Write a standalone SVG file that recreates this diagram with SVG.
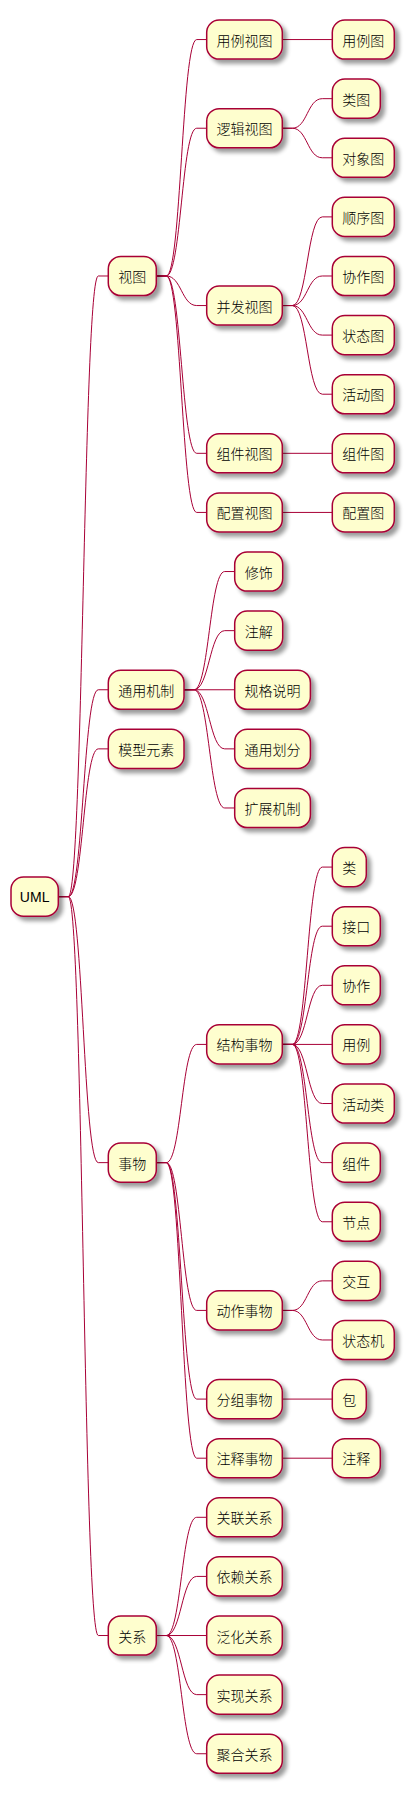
<svg xmlns="http://www.w3.org/2000/svg" width="412" height="1794" viewBox="0 0 412 1794">
<style>
.n rect{fill:#FEFECE;stroke:#A80036;stroke-width:1.5;filter:url(#sh)}
.n text{font-family:"Noto Sans CJK SC","Liberation Sans",sans-serif;font-size:14px;font-weight:300;fill:#000;text-anchor:middle}
.n text.l{font-family:"Liberation Sans",Arial,sans-serif;font-weight:400}
#links path{fill:none;stroke:#A80036;stroke-width:1}
</style>
<defs>
<filter id="sh" x="-20%" y="-20%" width="150%" height="160%">
<feGaussianBlur in="SourceAlpha" stdDeviation="2" result="b"/>
<feOffset in="b" dx="4" dy="4" result="o"/>
<feComponentTransfer in="o" result="c"><feFuncA type="linear" slope="0.4"/></feComponentTransfer>
<feMerge><feMergeNode in="c"/><feMergeNode in="SourceGraphic"/></feMerge>
</filter>
</defs>
<g id="links">
<path d="M58.3 896.65 L68.3 896.65 C83.3 896.65 83.3 275.99 98.3 275.99 L108.3 275.99"/>
<path d="M58.3 896.65 L68.3 896.65 C83.3 896.65 83.3 689.76 98.3 689.76 L108.3 689.76"/>
<path d="M58.3 896.65 L68.3 896.65 C83.3 896.65 83.3 748.87 98.3 748.87 L108.3 748.87"/>
<path d="M58.3 896.65 L68.3 896.65 C83.3 896.65 83.3 1162.64 98.3 1162.64 L108.3 1162.64"/>
<path d="M58.3 896.65 L68.3 896.65 C83.3 896.65 83.3 1635.52 98.3 1635.52 L108.3 1635.52"/>
<path d="M156.3 275.99 L166.3 275.99 C181.3 275.99 181.7 39.55 196.7 39.55 L206.7 39.55"/>
<path d="M156.3 275.99 L166.3 275.99 C181.3 275.99 181.7 128.22 196.7 128.22 L206.7 128.22"/>
<path d="M156.3 275.99 L166.3 275.99 C181.3 275.99 181.7 305.55 196.7 305.55 L206.7 305.55"/>
<path d="M156.3 275.99 L166.3 275.99 C181.3 275.99 181.7 453.32 196.7 453.32 L206.7 453.32"/>
<path d="M156.3 275.99 L166.3 275.99 C181.3 275.99 181.7 512.43 196.7 512.43 L206.7 512.43"/>
<path d="M184 689.76 L194 689.76 C209 689.76 209.7 571.54 224.7 571.54 L234.7 571.54"/>
<path d="M184 689.76 L194 689.76 C209 689.76 209.7 630.65 224.7 630.65 L234.7 630.65"/>
<path d="M184 689.76 L234.7 689.76"/>
<path d="M184 689.76 L194 689.76 C209 689.76 209.7 748.87 224.7 748.87 L234.7 748.87"/>
<path d="M184 689.76 L194 689.76 C209 689.76 209.7 807.98 224.7 807.98 L234.7 807.98"/>
<path d="M156.3 1162.64 L166.3 1162.64 C181.3 1162.64 181.7 1044.42 196.7 1044.42 L206.7 1044.42"/>
<path d="M156.3 1162.64 L166.3 1162.64 C181.3 1162.64 181.7 1310.42 196.7 1310.42 L206.7 1310.42"/>
<path d="M156.3 1162.64 L166.3 1162.64 C181.3 1162.64 181.7 1399.08 196.7 1399.08 L206.7 1399.08"/>
<path d="M156.3 1162.64 L166.3 1162.64 C181.3 1162.64 181.7 1458.19 196.7 1458.19 L206.7 1458.19"/>
<path d="M156.3 1635.52 L166.3 1635.52 C181.3 1635.52 181.7 1517.3 196.7 1517.3 L206.7 1517.3"/>
<path d="M156.3 1635.52 L166.3 1635.52 C181.3 1635.52 181.7 1576.41 196.7 1576.41 L206.7 1576.41"/>
<path d="M156.3 1635.52 L206.7 1635.52"/>
<path d="M156.3 1635.52 L166.3 1635.52 C181.3 1635.52 181.7 1694.63 196.7 1694.63 L206.7 1694.63"/>
<path d="M156.3 1635.52 L166.3 1635.52 C181.3 1635.52 181.7 1753.74 196.7 1753.74 L206.7 1753.74"/>
<path d="M282.3 39.55 L332.3 39.55"/>
<path d="M282.3 128.22 L292.3 128.22 C307.3 128.22 307.3 98.66 322.3 98.66 L332.3 98.66"/>
<path d="M282.3 128.22 L292.3 128.22 C307.3 128.22 307.3 157.77 322.3 157.77 L332.3 157.77"/>
<path d="M282.3 305.55 L292.3 305.55 C307.3 305.55 307.3 216.88 322.3 216.88 L332.3 216.88"/>
<path d="M282.3 305.55 L292.3 305.55 C307.3 305.55 307.3 275.99 322.3 275.99 L332.3 275.99"/>
<path d="M282.3 305.55 L292.3 305.55 C307.3 305.55 307.3 335.1 322.3 335.1 L332.3 335.1"/>
<path d="M282.3 305.55 L292.3 305.55 C307.3 305.55 307.3 394.21 322.3 394.21 L332.3 394.21"/>
<path d="M282.3 453.32 L332.3 453.32"/>
<path d="M282.3 512.43 L332.3 512.43"/>
<path d="M282.3 1044.42 L292.3 1044.42 C307.3 1044.42 307.3 867.09 322.3 867.09 L332.3 867.09"/>
<path d="M282.3 1044.42 L292.3 1044.42 C307.3 1044.42 307.3 926.2 322.3 926.2 L332.3 926.2"/>
<path d="M282.3 1044.42 L292.3 1044.42 C307.3 1044.42 307.3 985.31 322.3 985.31 L332.3 985.31"/>
<path d="M282.3 1044.42 L332.3 1044.42"/>
<path d="M282.3 1044.42 L292.3 1044.42 C307.3 1044.42 307.3 1103.53 322.3 1103.53 L332.3 1103.53"/>
<path d="M282.3 1044.42 L292.3 1044.42 C307.3 1044.42 307.3 1162.64 322.3 1162.64 L332.3 1162.64"/>
<path d="M282.3 1044.42 L292.3 1044.42 C307.3 1044.42 307.3 1221.75 322.3 1221.75 L332.3 1221.75"/>
<path d="M282.3 1310.42 L292.3 1310.42 C307.3 1310.42 307.3 1280.86 322.3 1280.86 L332.3 1280.86"/>
<path d="M282.3 1310.42 L292.3 1310.42 C307.3 1310.42 307.3 1339.97 322.3 1339.97 L332.3 1339.97"/>
<path d="M282.3 1399.08 L332.3 1399.08"/>
<path d="M282.3 1458.19 L332.3 1458.19"/>
</g>
<g id="uml" class="n"><rect x="11" y="877.1" width="47.3" height="39.1" rx="12.5"/><text class="l" x="34.65" y="902">UML</text></g>
<g id="shitu" class="n"><rect x="108.3" y="256.44" width="48" height="39.1" rx="12.5"/><text x="132.3" y="282">视图</text></g>
<g id="tongyongjizhi" class="n"><rect x="108.3" y="670.21" width="75.7" height="39.1" rx="12.5"/><text x="146.15" y="695.8">通用机制</text></g>
<g id="moxingyuansu" class="n"><rect x="108.3" y="729.32" width="75.7" height="39.1" rx="12.5"/><text x="146.15" y="754.9">模型元素</text></g>
<g id="shiwu" class="n"><rect x="108.3" y="1143.09" width="48" height="39.1" rx="12.5"/><text x="132.3" y="1168.6">事物</text></g>
<g id="guanxi" class="n"><rect x="108.3" y="1615.97" width="48" height="39.1" rx="12.5"/><text x="132.3" y="1641.5">关系</text></g>
<g id="yonglishitu" class="n"><rect x="206.7" y="20" width="75.6" height="39.1" rx="12.5"/><text x="244.5" y="45.6">用例视图</text></g>
<g id="luojishitu" class="n"><rect x="206.7" y="108.67" width="75.6" height="39.1" rx="12.5"/><text x="244.5" y="134.2">逻辑视图</text></g>
<g id="bingfashitu" class="n"><rect x="206.7" y="286" width="75.6" height="39.1" rx="12.5"/><text x="244.5" y="311.6">并发视图</text></g>
<g id="zujianshitu" class="n"><rect x="206.7" y="433.77" width="75.6" height="39.1" rx="12.5"/><text x="244.5" y="459.3">组件视图</text></g>
<g id="peizhishitu" class="n"><rect x="206.7" y="492.88" width="75.6" height="39.1" rx="12.5"/><text x="244.5" y="518.4">配置视图</text></g>
<g id="xiushi" class="n"><rect x="234.7" y="551.99" width="48" height="39.1" rx="12.5"/><text x="258.7" y="577.5">修饰</text></g>
<g id="zhujie" class="n"><rect x="234.7" y="611.1" width="48" height="39.1" rx="12.5"/><text x="258.7" y="636.6">注解</text></g>
<g id="guigeshuoming" class="n"><rect x="234.7" y="670.21" width="75.7" height="39.1" rx="12.5"/><text x="272.55" y="695.8">规格说明</text></g>
<g id="tongyonghuafen" class="n"><rect x="234.7" y="729.32" width="75.7" height="39.1" rx="12.5"/><text x="272.55" y="754.9">通用划分</text></g>
<g id="kuozhanjizhi" class="n"><rect x="234.7" y="788.43" width="75.7" height="39.1" rx="12.5"/><text x="272.55" y="814">扩展机制</text></g>
<g id="jiegoushiwu" class="n"><rect x="206.7" y="1024.87" width="75.6" height="39.1" rx="12.5"/><text x="244.5" y="1050.4">结构事物</text></g>
<g id="dongzuoshiwu" class="n"><rect x="206.7" y="1290.87" width="75.6" height="39.1" rx="12.5"/><text x="244.5" y="1316.4">动作事物</text></g>
<g id="fenzushiwu" class="n"><rect x="206.7" y="1379.53" width="75.6" height="39.1" rx="12.5"/><text x="244.5" y="1405.1">分组事物</text></g>
<g id="zhushishiwu" class="n"><rect x="206.7" y="1438.64" width="75.6" height="39.1" rx="12.5"/><text x="244.5" y="1464.2">注释事物</text></g>
<g id="guanlianguanxi" class="n"><rect x="206.7" y="1497.75" width="75.6" height="39.1" rx="12.5"/><text x="244.5" y="1523.3">关联关系</text></g>
<g id="yilaiguanxi" class="n"><rect x="206.7" y="1556.86" width="75.6" height="39.1" rx="12.5"/><text x="244.5" y="1582.4">依赖关系</text></g>
<g id="fanhuaguanxi" class="n"><rect x="206.7" y="1615.97" width="75.6" height="39.1" rx="12.5"/><text x="244.5" y="1641.5">泛化关系</text></g>
<g id="shixianguanxi" class="n"><rect x="206.7" y="1675.08" width="75.6" height="39.1" rx="12.5"/><text x="244.5" y="1700.6">实现关系</text></g>
<g id="juheguanxi" class="n"><rect x="206.7" y="1734.19" width="75.6" height="39.1" rx="12.5"/><text x="244.5" y="1759.7">聚合关系</text></g>
<g id="yonglitu" class="n"><rect x="332.3" y="20" width="62" height="39.1" rx="12.5"/><text x="363.3" y="45.6">用例图</text></g>
<g id="leitu" class="n"><rect x="332.3" y="79.11" width="48" height="39.1" rx="12.5"/><text x="356.3" y="104.7">类图</text></g>
<g id="duixiangtu" class="n"><rect x="332.3" y="138.22" width="62" height="39.1" rx="12.5"/><text x="363.3" y="163.8">对象图</text></g>
<g id="shunxutu" class="n"><rect x="332.3" y="197.33" width="62" height="39.1" rx="12.5"/><text x="363.3" y="222.9">顺序图</text></g>
<g id="xiezuotu" class="n"><rect x="332.3" y="256.44" width="62" height="39.1" rx="12.5"/><text x="363.3" y="282">协作图</text></g>
<g id="zhuangtaitu" class="n"><rect x="332.3" y="315.55" width="62" height="39.1" rx="12.5"/><text x="363.3" y="341.1">状态图</text></g>
<g id="huodongtu" class="n"><rect x="332.3" y="374.66" width="62" height="39.1" rx="12.5"/><text x="363.3" y="400.2">活动图</text></g>
<g id="zujiantu" class="n"><rect x="332.3" y="433.77" width="62" height="39.1" rx="12.5"/><text x="363.3" y="459.3">组件图</text></g>
<g id="peizhitu" class="n"><rect x="332.3" y="492.88" width="62" height="39.1" rx="12.5"/><text x="363.3" y="518.4">配置图</text></g>
<g id="lei" class="n"><rect x="332.3" y="847.54" width="34" height="39.1" rx="12.5"/><text x="349.3" y="873.1">类</text></g>
<g id="jiekou" class="n"><rect x="332.3" y="906.65" width="48" height="39.1" rx="12.5"/><text x="356.3" y="932.2">接口</text></g>
<g id="xiezuo" class="n"><rect x="332.3" y="965.76" width="48" height="39.1" rx="12.5"/><text x="356.3" y="991.3">协作</text></g>
<g id="yongli" class="n"><rect x="332.3" y="1024.87" width="48" height="39.1" rx="12.5"/><text x="356.3" y="1050.4">用例</text></g>
<g id="huodonglei" class="n"><rect x="332.3" y="1083.98" width="62" height="39.1" rx="12.5"/><text x="363.3" y="1109.5">活动类</text></g>
<g id="zujian" class="n"><rect x="332.3" y="1143.09" width="48" height="39.1" rx="12.5"/><text x="356.3" y="1168.6">组件</text></g>
<g id="jiedian" class="n"><rect x="332.3" y="1202.2" width="48" height="39.1" rx="12.5"/><text x="356.3" y="1227.8">节点</text></g>
<g id="jiaohu" class="n"><rect x="332.3" y="1261.31" width="48" height="39.1" rx="12.5"/><text x="356.3" y="1286.9">交互</text></g>
<g id="zhuangtaiji" class="n"><rect x="332.3" y="1320.42" width="62" height="39.1" rx="12.5"/><text x="363.3" y="1346">状态机</text></g>
<g id="bao" class="n"><rect x="332.3" y="1379.53" width="34" height="39.1" rx="12.5"/><text x="349.3" y="1405.1">包</text></g>
<g id="zhushi" class="n"><rect x="332.3" y="1438.64" width="48" height="39.1" rx="12.5"/><text x="356.3" y="1464.2">注释</text></g>
</svg>
